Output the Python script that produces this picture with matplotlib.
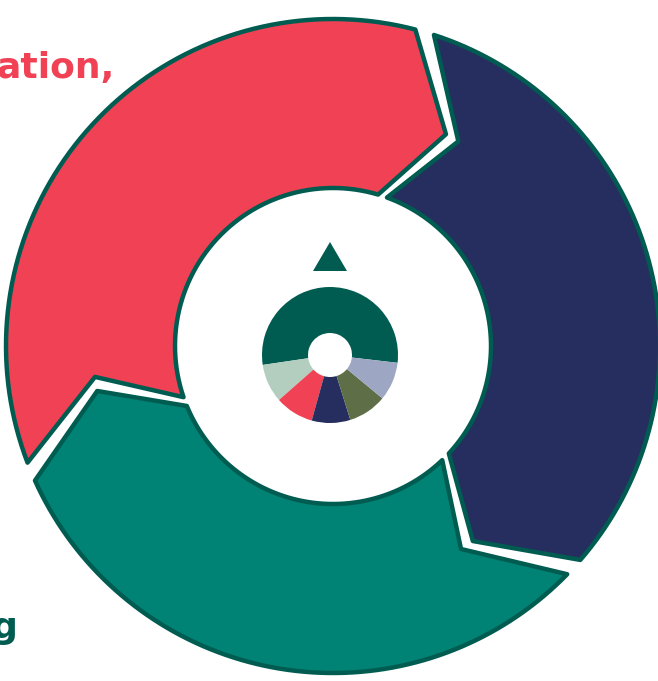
import numpy as np
import matplotlib
matplotlib.use("Agg")
import matplotlib.pyplot as plt
from matplotlib.patches import Polygon

# Datos del anillo grande (porcentaje de cada segmento, en sentido horario)
segmentos = ["rojo", "azul", "verde"]
valores = [35.8, 32.3, 31.9]
colores = ["#f04155", "#252e5e", "#008374"]

# Datos del anillo chico del centro
valores_chico = [195, 33, 33, 33, 33, 33]
colores_chico = ["#005c51", "#b3cdbf", "#f04155", "#252e5e", "#5e6f47", "#9da6c3"]

borde = "#005c51"

fig = plt.figure(figsize=(6.58, 6.81), dpi=100)
ax = fig.add_axes([0, 0, 1, 1])

# centro y radios (en pixeles)
cx, cy = 333, 681 - 346
r_ext, r_med, r_int = 327, 240, 158
inicio = 202.6   # angulo del primer borde
gap = 1.7        # medio hueco entre segmentos
flecha = 13.5    # cuanto sobresale la punta


def punto(r, a):
    a = np.radians(a)
    return cx + r * np.cos(a), cy + r * np.sin(a)


# Armo los bordes entre segmentos
bordes = [inicio]
for v in valores:
    bordes.append(bordes[-1] - v / 100 * 360)

for i in range(len(valores)):
    bs, be = bordes[i], bordes[i + 1]
    pts = []
    # arco exterior
    for a in np.linspace(bs - gap, be + gap, 80):
        pts.append(punto(r_ext, a))
    # punta del final
    pts.append(punto(r_med, be - flecha + gap))
    pts.append(punto(r_int, be - 2 + gap))
    # arco interior
    for a in np.linspace(be - 2 + gap, bs - 2 - gap, 60):
        pts.append(punto(r_int, a))
    # muesca del inicio
    pts.append(punto(r_med, bs - flecha - gap))
    ax.add_patch(Polygon(pts, closed=True, facecolor=colores[i],
                         edgecolor=borde, linewidth=3.2, joinstyle="round"))

# anillo chico
ax.pie(valores_chico, colors=colores_chico, startangle=-6.6, counterclock=True,
       center=(330, 681 - 355), radius=68,
       wedgeprops=dict(width=46, linewidth=0))

# triangulo
tx, ty, th, tw = 330, 681 - 242, 29, 34
ax.add_patch(Polygon([(tx, ty), (tx - tw / 2, ty - th), (tx + tw / 2, ty - th)],
                     closed=True, facecolor=borde, edgecolor="none"))

# textos cortados
ax.text(-3, 681 - 78, "ation,", color="#f04155", fontsize=26,
        fontweight="bold", ha="left", va="baseline")
ax.text(-9, 681 - 638, "g", color=borde, fontsize=26,
        fontweight="bold", ha="left", va="baseline")

ax.set_xlim(0, 658)
ax.set_ylim(0, 681)
ax.set_aspect("equal")
ax.axis("off")

fig.savefig("out.png", dpi=100)
